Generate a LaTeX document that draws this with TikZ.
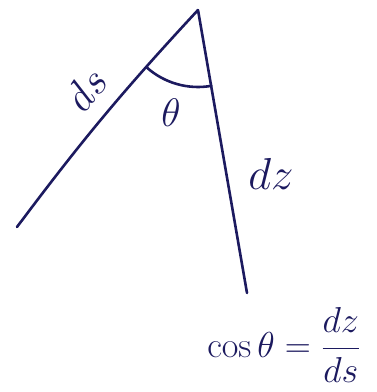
\documentclass[tikz,border=0pt]{standalone}
\usepackage{amsmath,amssymb}
\usetikzlibrary{arrows.meta}
\definecolor{ink}{RGB}{28,26,95}

\begin{document}
\begin{tikzpicture}[x=1pt, y=1pt, every node/.style={text=ink, font=\Huge}, ink line/.style={ink, line width=2.6pt, line cap=round}]
	\useasboundingbox (0,0) rectangle (376,392);
	\coordinate (apex) at (198,382);
	\coordinate (sEnd) at (17,165);
	\coordinate (zEnd) at (247,99);
	\draw[ink line] (sEnd) to[bend left=3] (apex);
	\draw[ink line] (apex) -- (zEnd);
	\draw[ink line] (apex) ++(228:77) arc (228:280:77);
	\node[rotate=52, scale=1.7] (dsLabel) at (86,303) {$ds$};
	\node[scale=1.6] (thetaLabel) at (171,279) {$\theta$};
	\node[scale=1.8] (dzLabel) at (271,218) {$dz$};
	\node[scale=1.45] (cosEq) at (284,47) {$\cos\theta=\dfrac{dz}{ds}$};
\end{tikzpicture}
\end{document}
